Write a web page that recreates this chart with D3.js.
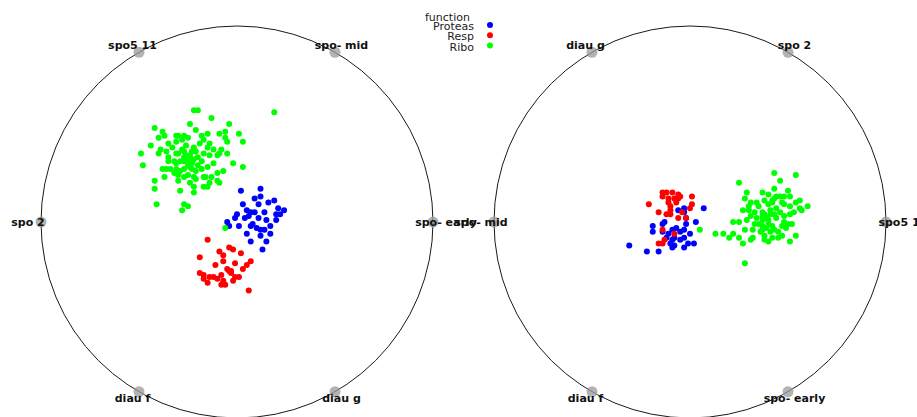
<!DOCTYPE html>
<html>
<head>
<meta charset="utf-8">
<script src="https://cdn.jsdelivr.net/npm/d3@7"></script>
<style>
  html, body { margin: 0; padding: 0; background: #fff; }
  svg { display: block; }
</style>
</head>
<body>
<svg id="chart" width="917" height="417"></svg>
<script>
// Function classes and their colours
const functions = ["Proteas", "Resp", "Ribo"];
const functionColors = ["#0000ff", "#ff0000", "#00ff00"];

// Dimension anchors, listed counter-clockwise starting at 0 degrees
const leftAnchors = ["spo- early", "spo- mid", "spo5 11", "spo 2", "diau f", "diau g"];
const rightAnchors = ["spo5 1", "spo 2", "diau g", "spo- mid", "diau f", "spo- early"];

// RadViz projections, in percent of the circle radius (x right, y up)
const leftProteas = [
  [2,16],[12,17],[12,13],[16,10],[11,9],[21,7],[24,6],[22,4],[5,6],[7,5],[9,5],[14,5],
  [0,4],[-1,2],[4,2],[6,3],[11,2],[15,1],[-5,0],[-4,-2],[1,-2],[7,-2],[8,-1],[10,-3],
  [12,-4],[17,-2],[17,-6],[12,-7],[15,-10],[7,-10],[13,-14],[20,4],[9,12],[19,11],
  [3,9],[14,-4],[5,-6],[20,1]
];
const leftResp = [
  [-15,-9],[-4,-13],[-2,-14],[-9,-15],[-7,-17],[-7,-20],[2,-16],[-19,-18],[7,-20],
  [5,-22],[-5,-24],[-4,-25],[-3,-25],[-3,-26],[-17,-27],[-17,-29],[-14,-28],[-12,-28],
  [-10,-29],[-1,-28],[1,-28],[-2,-30],[-15,-31],[-7,-30],[-6,-32],[-8,-32],[6,-35],
  [-11,-22],[-1,-21],[3,-24],[-19,-26],[-8,-27]
];
const leftRibo = [
  [-22,57],[-20,57],[19,56],[-13,53],[-24,50],[-4,50],[-42,48],[-21,47],[-38,46],[-37,44],
  [-40,43],[-31,44],[-27,44],[-25,43],[-18,44],[-15,45],[-17,42],[-9,45],[-6,46],[-6,43],
  [-5,41],[1,45],[-35,40],[-31,41],[-28,42],[-26,39],[3,41],[-14,40],[-15,38],[-39,37],
  [-40,35],[-28,37],[-27,36],[-22,38],[-21,36],[-12,37],[-9,35],[-8,37],[-5,35],[-10,34],
  [-49,35],[-31,35],[-30,35],[-17,35],[-14,34],[-35,33],[-35,31],[-32,31],[-27,33],[-25,32],
  [-24,34],[-22,32],[-27,31],[-24,30],[-23,30],[-48,29],[-31,30],[-2,30],[3,28],[-38,27],
  [-36,27],[-34,27],[-31,27],[-29,26],[-27,27],[-24,28],[-23,27],[-20,29],[-18,27],[-15,28],
  [-32,25],[-30,24],[-27,23],[-25,24],[-22,23],[-21,22],[-17,23],[-16,23],[-10,25],[-13,23],
  [-37,23],[-30,21],[-10,21],[-42,21],[-42,17],[-22,18],[-22,15],[-17,18],[-15,18],[-29,16],
  [-41,9],[-27,9],[-25,8],[-28,6],[-9,20],[-6,-3],
  [-26,34],[-23,36],[-20,33],[-29,31],[-25,29],[-21,26],[-18,31],[-33,38],[-12,30],[-7,26],
  [-19,40],[-30,44],[-44,39],[-36,36],[-14,20],[-24,20]
];

const rightProteas = [
  [-3,7],[7,7],[-6,6],[-3,5],[-2,2],[-2,-1],[-13,0],[-14,-1],[-19,-2],[3,0],
  [-19,-5],[-14,-5],[-9,-4],[-5,-5],[-3,-4],[-12,-8],[-9,-9],[-8,-8],[-5,-9],[-3,-8],
  [-10,-11],[-8,-12],[-3,-13],[-1,-11],[2,-11],[-31,-12],[-22,-15],[-16,-15],[-9,-13],
  [-7,-3],[-11,-6],[0,-6]
];
const rightResp = [
  [-14,15],[-12,15],[-9,15],[-6,14],[-5,13],[1,13],[-14,13],[-11,12],[-8,12],[-6,12],
  [-21,9],[-11,10],[-10,8],[1,9],[0,7],[-16,5],[-12,4],[-10,4],[-6,2],[-2,2],
  [-14,-4],[-8,-6],[-14,-11],[-16,-11],[-10,6],[-13,-9],[-7,10],[-4,5]
];
const rightRibo = [
  [43,25],[54,24],[46,21],[25,20],[43,17],[50,16],[29,15],[37,15],[40,14],[46,13],
  [48,13],[51,13],[43,12],[28,12],[38,11],[54,10],[56,11],[31,10],[34,10],[42,10],
  [47,10],[48,9],[51,8],[60,8],[56,7],[57,6],[27,6],[30,6],[33,5],[44,7],
  [43,4],[41,4],[37,5],[37,3],[39,2],[40,1],[51,4],[37,1],[31,3],[29,1],
  [22,0],[25,0],[33,-1],[35,-1],[37,-2],[40,-1],[42,-2],[48,0],[47,-2],[50,-1],
  [52,-1],[49,-3],[28,-4],[32,-4],[37,-4],[41,-5],[43,-4],[38,-7],[13,-6],[17,-6],
  [22,-6],[20,-8],[25,-8],[31,-9],[32,-8],[38,-9],[40,-10],[42,-8],[45,-8],[54,-7],
  [51,-10],[27,-11],[28,-21],[5,-4],
  [38,4],[44,2],[41,6],[35,8],[46,5],[39,-3],[34,2],[45,-5],[48,3],[36,-5],
  [42,11],[30,8],[53,5],[44,13],[40,9],[47,-7]
];

const panels = [
  { cx: 237, cy: 222, anchors: leftAnchors, series: [leftProteas, leftResp, leftRibo] },
  { cx: 690, cy: 222, anchors: rightAnchors, series: [rightProteas, rightResp, rightRibo] }
];
const radius = 196;

const svg = d3.select("#chart");

panels.forEach(p => {
  const x = d3.scaleLinear().domain([-100, 100]).range([p.cx - radius, p.cx + radius]);
  const y = d3.scaleLinear().domain([-100, 100]).range([p.cy + radius, p.cy - radius]);
  const angle = d3.scaleLinear().domain([0, p.anchors.length]).range([0, 2 * Math.PI]);

  const g = svg.append("g");

  g.append("circle")
    .attr("cx", x(0)).attr("cy", y(0))
    .attr("r", x(100) - x(0))
    .attr("fill", "none")
    .attr("stroke", "#1a1a1a")
    .attr("stroke-width", 1);

  const anchorData = p.anchors.map((name, i) => ({
    name,
    ax: 100 * Math.cos(angle(i)),
    ay: 100 * Math.sin(angle(i)),
    a: angle(i)
  }));

  g.selectAll("circle.anchor").data(anchorData).join("circle")
    .attr("class", "anchor")
    .attr("cx", d => x(d.ax)).attr("cy", d => y(d.ay))
    .attr("r", 5.5)
    .attr("fill", "#999")
    .attr("opacity", 0.75);

  p.series.forEach((pts, k) => {
    g.selectAll(null).data(pts).join("circle")
      .attr("cx", d => x(d[0])).attr("cy", d => y(d[1]))
      .attr("r", 3)
      .attr("fill", functionColors[k]);
  });

  g.selectAll("text.label").data(anchorData).join("text")
    .attr("class", "label")
    .attr("x", d => x(d.ax) + 13 * Math.cos(d.a))
    .attr("y", d => y(d.ay) - 8 * Math.sin(d.a))
    .attr("text-anchor", "middle")
    .attr("dominant-baseline", "central")
    .attr("font-family", "DejaVu Sans, Verdana, sans-serif")
    .attr("font-weight", "bold")
    .attr("font-size", 11)
    .attr("fill", "#111")
    .text(d => d.name);
});

// Legend
const legend = svg.append("g").attr("font-family", "DejaVu Sans, Verdana, sans-serif")
  .attr("font-size", 11).attr("fill", "#222");
legend.append("text").attr("x", 425).attr("y", 21).text("function");
functions.forEach((f, i) => {
  legend.append("text")
    .attr("x", 474).attr("y", 30 + i * 10.3)
    .attr("text-anchor", "end")
    .text(f);
  legend.append("circle")
    .attr("cx", 490).attr("cy", 25 + i * 10.3)
    .attr("r", 3)
    .attr("fill", functionColors[i]);
});
</script>
</body>
</html>
